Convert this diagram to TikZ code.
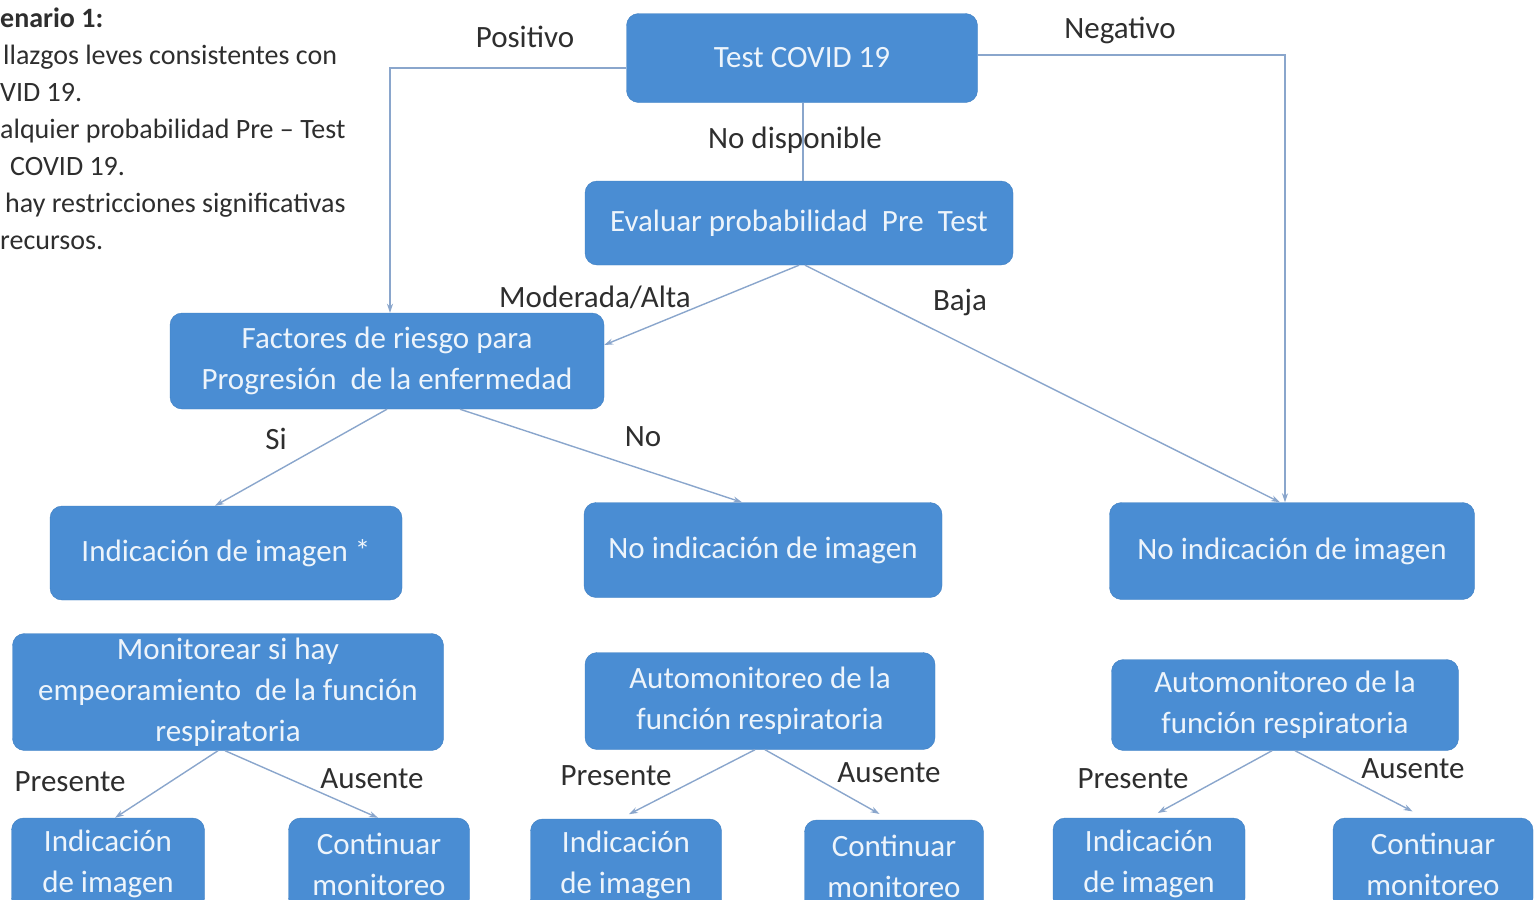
\documentclass[tikz,border=0pt]{standalone}
\usepackage{fontspec}
\setmainfont{Carlito}
\usetikzlibrary{arrows.meta,positioning}
\definecolor{boxfill}{HTML}{4A8DD3}
\definecolor{boxline}{HTML}{3F7FC2}
\definecolor{conn}{HTML}{8AA6CC}
\definecolor{txt}{HTML}{2E2E2E}

\begin{document}
\begin{tikzpicture}[
  x=1pt,y=-1pt,
  box/.style={draw=boxline,fill=boxfill,rounded corners=12pt,text=white!90!boxfill,align=center,font=\fontsize{31}{41}\selectfont,inner sep=0pt},
  small/.style={box,minimum width=192pt,minimum height=92pt},
  lab/.style={text=txt,font=\fontsize{31}{34}\selectfont,inner sep=0pt},
  ar/.style={-{Stealth[length=9pt,width=6pt]},conn,line width=1.4pt},
  ln/.style={conn,line width=1.4pt},
]
\clip (0,0) rectangle (1535,900);

% scenario note, cut at the left edge
\node[lab,anchor=north west,align=left,font=\fontsize{28}{37}\selectfont] (note) at (0,8)
  {\textbf{enario 1:}\\
   \hspace{3pt}llazgos leves consistentes con\\
   VID 19.\\
   alquier probabilidad Pre -- Test\\
   \hspace{10pt}COVID 19.\\
   \hspace{5pt}hay restricciones significativas\\
   recursos.};

% top of the tree
\node[box,minimum width=351pt,minimum height=89pt] (test) at (802,58) {Test COVID 19};
\node[box,minimum width=428pt,minimum height=84pt] (eval) at (799,223) {Evaluar probabilidad\ \ Pre\ \ Test};
\node[box,minimum width=434pt,minimum height=96pt] (fact) at (387,361) {Factores de riesgo para\\Progresión\ \ de la enfermedad};

% second level
\node[box,minimum width=352pt,minimum height=94pt] (indA) at (226,553) {Indicación de imagen *};
\node[box,minimum width=358pt,minimum height=95pt] (noB) at (763,550) {No indicación de imagen};
\node[box,minimum width=365pt,minimum height=97pt] (noC) at (1292,551) {No indicación de imagen};

% monitoring
\node[box,minimum width=431pt,minimum height=117pt] (monA) at (228,692) {Monitorear si hay\\empeoramiento\ \ de la función\\respiratoria};
\node[box,minimum width=350pt,minimum height=97pt] (monB) at (760,701) {Automonitoreo de la\\función respiratoria};
\node[box,minimum width=347pt,minimum height=91pt] (monC) at (1285,705) {Automonitoreo de la\\función respiratoria};

% leaves
\node[small,minimum width=193pt] (imgA) at (108,864) {Indicación\\de imagen};
\node[small,minimum width=181pt] (contA) at (379,864) {Continuar\\monitoreo};
\node[small,minimum width=191pt] (imgB) at (626,865) {Indicación\\de imagen};
\node[small,minimum width=179pt] (contB) at (894,866) {Continuar\\monitoreo};
\node[small,minimum width=192pt] (imgC) at (1149,864) {Indicación\\de imagen};
\node[small,minimum width=200pt] (contC) at (1433,864) {Continuar\\monitoreo};

% labels
\node[lab] (lpos) at (525,37) {Positivo};
\node[lab] (lneg) at (1120,30) {Negativo};
\node[lab] (lnd) at (795,140) {No disponible};
\node[lab] (lmod) at (595,297) {Moderada/Alta};
\node[lab] (lbaja) at (960,302) {Baja};
\node[lab] (lsi) at (276,439) {Si};
\node[lab] (lno) at (643,437) {No};
\node[lab] (lpA) at (70,782) {Presente};
\node[lab] (laA) at (372,779) {Ausente};
\node[lab] (lpB) at (616,776) {Presente};
\node[lab] (laB) at (889,773) {Ausente};
\node[lab] (lpC) at (1133,779) {Presente};
\node[lab] (laC) at (1413,769) {Ausente};

% connectors
\draw[ar] ([yshift=-10pt]test.west) -| ([xshift=3pt]fact.north);
\draw[ar] ([yshift=3pt]test.east) -| ([xshift=-7pt]noC.north);
\draw[ln] ([xshift=1pt]test.south) -- ([xshift=4pt]eval.north);
\draw[ar] (eval.south) -- ([yshift=16pt]fact.east);
\draw[ar] ([xshift=6pt]eval.south) -- ([xshift=-12pt]noC.north);
\draw[ar] (fact.south) -- ([xshift=-11pt]indA.north);
\draw[ar] ([xshift=73pt]fact.south) -- ([xshift=-21pt]noB.north);
\draw[ar] ([xshift=-10pt]monA.south) -- ([xshift=7pt]imgA.north);
\draw[ar] ([xshift=-3pt]monA.south) -- ([xshift=-1pt]contA.north);
\draw[ar,shorten >=10pt] ([xshift=-5pt]monB.south) -- ([xshift=-6pt]imgB.north);
\draw[ar,shorten >=12pt] ([xshift=5pt]monB.south) -- ([xshift=-4pt]contB.north);
\draw[ar,shorten >=10pt] ([xshift=-13pt]monC.south) -- (imgC.north);
\draw[ar,shorten >=14pt] ([xshift=10pt]monC.south) -- ([xshift=-8pt]contC.north);
\end{tikzpicture}
\end{document}
